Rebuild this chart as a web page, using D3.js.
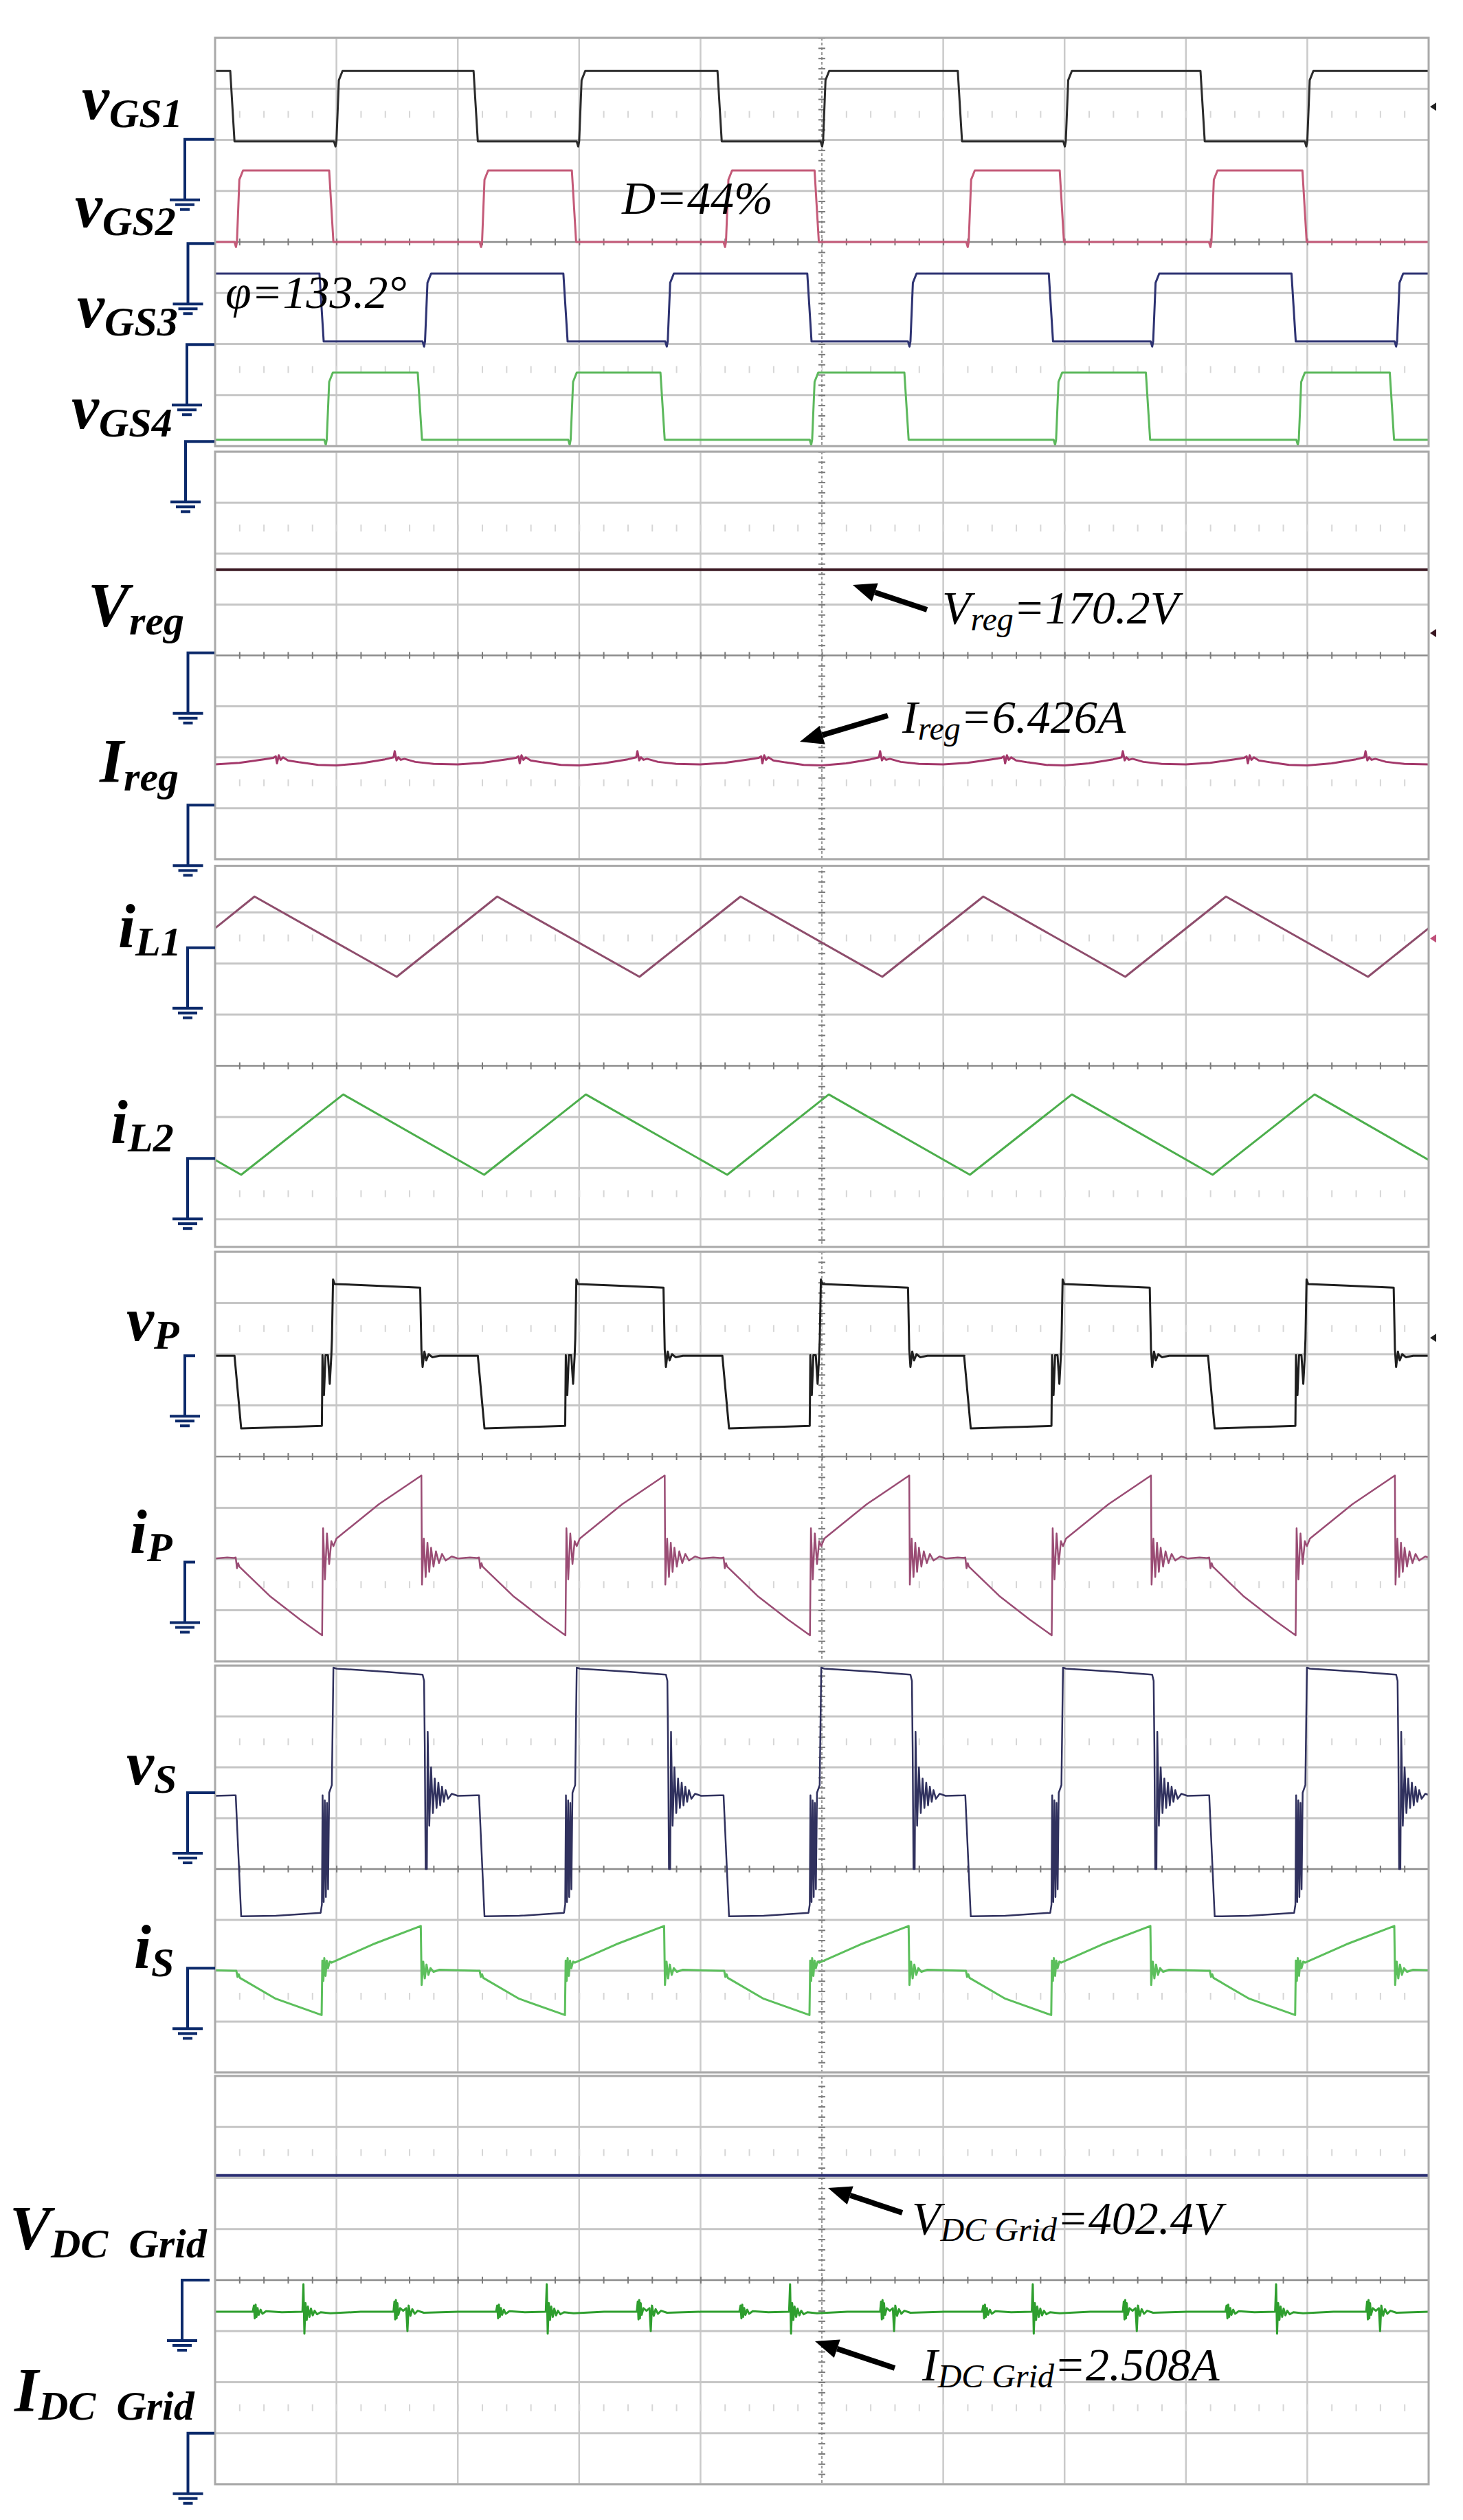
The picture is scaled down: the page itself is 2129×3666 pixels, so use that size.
<!DOCTYPE html>
<html>
<head>
<meta charset="utf-8">
<script src="https://cdn.jsdelivr.net/npm/d3@7"></script>
<style>
  body { margin: 0; background: #fff; }
  text { font-family: "Liberation Serif", "Times New Roman", serif; white-space: pre; }
</style>
</head>
<body>
<div id="chart"></div>
<script>
// time axis in scope divisions (0..10), levels in divisions from each screen's centre line

// gate signals (screen 1): edge times and [low, high] levels
var vGS1Rise = [1.0, 3.0, 5.01, 7.01, 9.0];
var vGS1Fall = [0.125, 2.13, 4.14, 6.12, 8.12];
var vGS1Level = [1.97, 3.35];
var vGS2Rise = [0.18, 2.2, 4.21, 6.21, 8.21];
var vGS2Fall = [0.94, 2.94, 4.94, 6.96, 8.96];
var vGS2Level = [0.0, 1.40];
var vGS3Rise = [1.73, 3.73, 5.73, 7.73, 9.74];
var vGS3Fall = [0.86, 2.87, 4.88, 6.87, 8.87];
var vGS3Level = [-1.95, -0.62];
var vGS4Rise = [0.92, 2.93, 4.92, 6.93, 8.93];
var vGS4Fall = [1.67, 3.67, 5.68, 7.67, 9.68];
var vGS4Level = [-3.875, -2.56];

// screen 2
var vregPts = [[0, 1.685], [10, 1.685]];
var iregCycle = [[0.0, -2.14], [0.2, -2.11], [0.4, -2.04], [0.48, -2.01], [0.5, -1.98], [0.51, -2.12],
  [0.525, -1.96], [0.54, -2.05], [0.56, -2.0], [0.6, -2.06], [0.7, -2.1], [0.85, -2.15], [1.0, -2.16],
  [1.2, -2.12], [1.4, -2.04], [1.47, -2.0], [1.48, -1.88], [1.495, -2.06], [1.51, -2.0], [1.53, -2.05],
  [1.56, -2.03], [1.65, -2.09], [1.8, -2.13], [2.0, -2.14]];
var iregShift = [0, 2, 4, 6, 8];

// screen 3: inductor currents (vertices)
var iL1Pts = [[0, 2.69], [0.325, 3.31], [1.497, 1.74], [2.325, 3.31], [3.497, 1.74], [4.33, 3.31],
  [5.498, 1.74], [6.33, 3.31], [7.5, 1.74], [8.33, 3.31], [9.5, 1.74], [10, 2.69]];
var iL2Pts = [[0, -1.84], [0.215, -2.13], [1.056, -0.56], [2.217, -2.13], [3.055, -0.56], [4.22, -2.13],
  [5.057, -0.56], [6.22, -2.13], [7.06, -0.56], [8.22, -2.13], [9.06, -0.56], [10, -1.84]];

// screens 4 and 5: one switching period each, repeated at the measured period starts
var bridgeShift = [-2, 0, 2.005, 4.02, 6.012, 8.022];
var vPCycle = [[0.155, 1.97], [0.16, 1.97], [0.215, 0.55], [0.5, 0.57], [0.88, 0.6], [0.885, 1.98],
  [0.897, 1.2], [0.91, 1.98], [0.93, 1.98], [0.945, 1.42], [0.958, 1.98], [0.963, 2.3], [0.972, 3.46],
  [0.985, 3.37], [1.3, 3.34], [1.69, 3.3], [1.70, 2.1], [1.71, 1.75], [1.725, 2.05], [1.74, 1.88],
  [1.76, 2.0], [1.79, 1.94], [1.85, 1.97], [2.155, 1.97]];
var iPCycle = [[0.155, -1.98], [0.17, -1.97], [0.18, -2.18], [0.19, -2.08], [0.2, -2.15], [0.45, -2.72],
  [0.7, -3.18], [0.882, -3.49], [0.89, -1.4], [0.905, -2.4], [0.922, -1.5], [0.94, -2.1], [0.958, -1.65],
  [0.975, -1.75], [1.0, -1.6], [1.35, -0.93], [1.7, -0.37], [1.705, -2.5],
  [1.72, -1.6], [1.735, -2.35], [1.75, -1.68], [1.765, -2.25], [1.78, -1.78], [1.8, -2.15], [1.82, -1.85],
  [1.845, -2.08], [1.87, -1.9], [1.9, -2.03], [1.95, -1.95], [2.0, -1.99], [2.1, -1.97], [2.155, -1.98]];
var vSCycle = [[0.155, 1.45], [0.17, 1.45], [0.215, -0.93], [0.5, -0.92], [0.87, -0.86], [0.88, -0.7],
  [0.886, 1.45], [0.895, -0.65], [0.904, 1.35], [0.913, -0.55], [0.922, 1.3], [0.931, -0.4], [0.94, 1.5],
  [0.962, 1.65], [0.975, 3.96], [1.0, 3.94], [1.4, 3.88], [1.71, 3.82], [1.722, 3.7], [1.728, 2.4],
  [1.735, 0.0], [1.745, 0.0], [1.752, 2.7], [1.765, 0.85], [1.78, 2.0], [1.795, 1.1], [1.81, 1.78],
  [1.825, 1.2], [1.84, 1.7], [1.855, 1.25], [1.87, 1.62], [1.885, 1.32], [1.9, 1.55], [1.92, 1.38],
  [1.95, 1.48], [2.0, 1.44], [2.155, 1.45]];
var iSCycle = [[0.155, -2.0], [0.175, -2.0], [0.185, -2.12], [0.195, -2.07], [0.205, -2.14], [0.5, -2.55],
  [0.878, -2.87], [0.884, -1.8], [0.892, -2.2], [0.9, -1.75], [0.91, -2.1], [0.92, -1.8], [0.93, -1.95],
  [0.945, -1.82], [0.96, -1.84], [1.3, -1.48], [1.695, -1.12], [1.702, -2.28], [1.715, -1.82],
  [1.728, -2.15], [1.742, -1.88], [1.758, -2.08], [1.775, -1.95], [1.8, -2.02], [1.85, -1.98], [2.155, -2.0]];

// screen 6
var vdcPts = [[0, 2.05], [10, 2.05]];
var idcShift = [-2, 0, 2.005, 4.01, 6.01, 8.015];
var idcCycle = [[0.0, -0.62], [0.31, -0.62], [0.32, -0.5], [0.327, -0.75], [0.334, -0.48], [0.341, -0.72],
  [0.35, -0.55], [0.36, -0.68], [0.375, -0.58], [0.39, -0.66], [0.42, -0.61], [0.55, -0.63], [0.72, -0.62],
  [0.728, -0.08], [0.736, -1.05], [0.745, -0.45], [0.755, -0.78], [0.765, -0.52], [0.778, -0.72],
  [0.79, -0.56], [0.805, -0.69], [0.82, -0.6], [0.84, -0.67], [0.87, -0.63], [0.95, -0.65], [1.2, -0.62],
  [1.47, -0.62], [1.478, -0.42], [1.484, -0.77], [1.49, -0.39], [1.496, -0.75], [1.502, -0.45],
  [1.51, -0.68], [1.525, -0.55], [1.55, -0.6], [1.575, -0.55], [1.585, -1.0], [1.595, -0.5], [1.61, -0.7],
  [1.625, -0.57], [1.645, -0.66], [1.67, -0.6], [1.72, -0.64], [2.0, -0.62]];

// probe reference (ground) levels per trace
var groundLevel = [2.01, -0.03, -2.01, -3.91, 0.05, -2.94, 2.31, -1.81, 1.97, -2.06, 1.50, -1.95, 0.0, -3.0];

// ---------------------------------------------------------------------------
var W = 2129, H = 3666;
var X0 = 313, X1 = 2079;
var SERIF = '"Liberation Serif", "Times New Roman", serif';

var panels = [
  {c: 352, d: 74.25, top: 55, bot: 649},
  {c: 953.5, d: 74.1, top: 657, bot: 1250},
  {c: 1550.5, d: 74.4, top: 1259.5, bot: 1814},
  {c: 2119, d: 74.5, top: 1821, bot: 2417},
  {c: 2719, d: 74, top: 2423, bot: 3015},
  {c: 3317, d: 74.25, top: 3020, bot: 3614}
];

var svg = d3.select("#chart").append("svg")
  .attr("width", W)
  .attr("height", H);

svg.append("rect").attr("width", W).attr("height", H).attr("fill", "#fff");

var x = d3.scaleLinear().domain([0, 10]).range([X0, X1]);
var defs = svg.append("defs");

function tile(cycle, shifts) {
  return shifts.flatMap(s => cycle.map(d => [d[0] + s, d[1]]));
}

function square(rises, falls, level, startHigh) {
  var lo = level[0], hi = level[1];
  var edges = rises.map(t => ({t: t, up: true}))
    .concat(falls.map(t => ({t: t, up: false})))
    .sort((a, b) => a.t - b.t);
  var pts = [[0, startHigh ? hi : lo]];
  edges.forEach(e => {
    if (e.up) {
      pts.push([e.t - 0.02, lo], [e.t - 0.008, lo - 0.1], [e.t, lo], [e.t + 0.02, hi - 0.18], [e.t + 0.05, hi]);
    } else {
      pts.push([e.t, hi], [e.t + 0.035, lo]);
    }
  });
  pts.push([10, pts[pts.length - 1][1]]);
  return pts;
}

// grid for every screen
panels.forEach(function(p, i) {
  p.y = d3.scaleLinear().domain([-4, 4]).range([p.c + 4 * p.d, p.c - 4 * p.d]);

  defs.append("clipPath").attr("id", "clip" + i)
    .append("rect")
    .attr("x", X0).attr("y", p.top)
    .attr("width", X1 - X0).attr("height", p.bot - p.top);

  p.g = svg.append("g").attr("clip-path", `url(#clip${i})`);
  var g = p.g;

  d3.range(1, 10).forEach(k => {
    g.append("line")
      .attr("x1", x(k)).attr("x2", x(k))
      .attr("y1", p.top).attr("y2", p.bot)
      .attr("stroke", k === 5 ? "#9a9a9a" : "#cacaca")
      .attr("stroke-width", k === 5 ? 2 : 2.5)
      .attr("stroke-dasharray", k === 5 ? "4,3" : null);
  });
  d3.range(-4, 5).forEach(v => {
    if (v === 0) return;
    g.append("line")
      .attr("x1", X0).attr("x2", X1)
      .attr("y1", p.y(v)).attr("y2", p.y(v))
      .attr("stroke", "#c6c6c6")
      .attr("stroke-width", 3);
  });

  // dotted rows at +/-2.5 div
  [-2.5, 2.5].forEach(v => {
    g.append("g")
      .attr("transform", `translate(0, ${p.y(v) - 5})`)
      .call(d3.axisBottom(x).tickValues(d3.range(0.2, 10, 0.2)).tickSizeInner(10).tickSizeOuter(0).tickFormat(""))
      .call(a => a.select(".domain").remove())
      .selectAll("line").attr("stroke", "#d6d6d6").attr("stroke-width", 2);
  });

  // centre line with tick marks
  g.append("line")
    .attr("x1", X0).attr("x2", X1)
    .attr("y1", p.y(0)).attr("y2", p.y(0))
    .attr("stroke", "#8c8c8c").attr("stroke-width", 2.5);
  g.append("g")
    .attr("transform", `translate(0, ${p.y(0) - 5})`)
    .call(d3.axisBottom(x).tickValues(d3.range(0.2, 10, 0.2)).tickSizeInner(10).tickSizeOuter(0).tickFormat(""))
    .call(a => a.select(".domain").remove())
    .selectAll("line").attr("stroke", "#7a7a7a").attr("stroke-width", 2);
  g.append("g")
    .attr("transform", `translate(${x(5) - 5}, 0)`)
    .call(d3.axisRight(p.y).tickValues(d3.range(-4, 4.01, 0.2)).tickSizeInner(10).tickSizeOuter(0).tickFormat(""))
    .call(a => a.select(".domain").remove())
    .selectAll("line").attr("stroke", "#7a7a7a").attr("stroke-width", 2);
});

// traces
var traces = [
  {p: 0, color: "#2b2b2b", pts: square(vGS1Rise, vGS1Fall, vGS1Level, true)},
  {p: 0, color: "#c45a78", pts: square(vGS2Rise, vGS2Fall, vGS2Level, false)},
  {p: 0, color: "#2e3372", pts: square(vGS3Rise, vGS3Fall, vGS3Level, true)},
  {p: 0, color: "#5cb85c", pts: square(vGS4Rise, vGS4Fall, vGS4Level, false)},
  {p: 1, color: "#3a1822", pts: vregPts, w: 4},
  {p: 1, color: "#a3386a", pts: tile(iregCycle, iregShift)},
  {p: 2, color: "#8e4d6c", pts: iL1Pts},
  {p: 2, color: "#4cae4c", pts: iL2Pts},
  {p: 3, color: "#1f1f1f", pts: tile(vPCycle, bridgeShift)},
  {p: 3, color: "#9a4c74", pts: tile(iPCycle, bridgeShift), w: 2.5},
  {p: 4, color: "#30315e", pts: tile(vSCycle, bridgeShift), w: 2.5},
  {p: 4, color: "#5cbf5c", pts: tile(iSCycle, bridgeShift)},
  {p: 5, color: "#2b2f72", pts: vdcPts, w: 4},
  {p: 5, color: "#2e9e2e", pts: tile(idcCycle, idcShift)}
];

traces.forEach(function(tr) {
  var p = panels[tr.p];
  var line = d3.line().x(d => x(d[0])).y(d => p.y(d[1]));
  p.g.append("path")
    .datum(tr.pts)
    .attr("d", line)
    .attr("fill", "none")
    .attr("stroke", tr.color)
    .attr("stroke-width", tr.w || 3)
    .attr("stroke-linejoin", "round");
});

// screen borders
panels.forEach(function(p) {
  svg.append("rect")
    .attr("x", X0).attr("y", p.top)
    .attr("width", X1 - X0).attr("height", p.bot - p.top)
    .attr("fill", "none")
    .attr("stroke", "#a9a9a9")
    .attr("stroke-width", 3);
});

// trigger level markers on the right edge
[[0, 2.65, "#222"], [1, 0.44, "#3a1822"], [2, 2.49, "#c0507a"], [3, 2.32, "#222"]].forEach(function(m) {
  var yy = panels[m[0]].y(m[1]);
  svg.append("path")
    .attr("d", `M${X1 + 2},${yy} L${X1 + 11},${yy - 6} L${X1 + 11},${yy + 6} Z`)
    .attr("fill", m[2]);
});

// probe ground symbols
var groundPanel = [0, 0, 0, 0, 1, 1, 2, 2, 3, 3, 4, 4, 5, 5];
var groundX = [269, 273.5, 272, 270, 273.5, 273.5, 273, 273, 269, 269, 273, 273, 265, 273.5];
var groundStub = [312, 312, 312, 312, 312, 312, 313, 313, 284, 284, 313, 313, 305, 312];
groundLevel.forEach(function(v, i) {
  var yz = panels[groundPanel[i]].y(v), gx = groundX[i];
  var gnd = svg.append("g")
    .attr("stroke", "#0c2a6b")
    .attr("stroke-width", 4)
    .attr("fill", "none");
  gnd.append("path").attr("d", `M${groundStub[i]},${yz} H${gx} V${yz + 88}`);
  [[88, 22], [95, 14], [102, 7]].forEach(b => {
    gnd.append("line")
      .attr("x1", gx - b[1]).attr("x2", gx + b[1])
      .attr("y1", yz + b[0]).attr("y2", yz + b[0]);
  });
});

// signal names
var names = [
  ["v", "GS1", 119, 172.6], ["v", "GS2", 109, 330], ["v", "GS3", 112, 475.6], ["v", "GS4", 104, 623],
  ["V", "reg", 128, 911], ["I", "reg", 145, 1138],
  ["i", "L1", 172, 1378], ["i", "L2", 161, 1663],
  ["v", "P", 184, 1950], ["i", "P", 189, 2259],
  ["v", "S", 184, 2596], ["i", "S", 195, 2863],
  ["V", "DC  Grid", 14, 3272], ["I", "DC  Grid", 21, 3508]
];
names.forEach(function(n) {
  var t = svg.append("text")
    .attr("x", n[2]).attr("y", n[3])
    .attr("font-family", SERIF)
    .style("font-weight", "bold")
    .style("font-style", "italic")
    .style("font-size", "90px")
    .attr("fill", "#000");
  t.append("tspan").text(n[0]);
  t.append("tspan").attr("dy", 12).style("font-size", "60px").text(n[1]);
});

// annotations
function note(x0, y0, main, sub, rest) {
  var t = svg.append("text")
    .attr("x", x0).attr("y", y0)
    .attr("font-family", SERIF)
    .style("font-style", "italic")
    .style("font-size", "68px")
    .attr("fill", "#000");
  t.append("tspan").text(main);
  if (sub) {
    t.append("tspan").attr("dy", 10).style("font-size", "48px").text(sub);
    t.append("tspan").attr("dy", -10).text(rest);
  }
}
note(905, 311, "D=44%");
note(328, 448, "\u03c6=133.2\u00b0");
note(1371, 907, "V", "reg", "=170.2V");
note(1313, 1066, "I", "reg", "=6.426A");
note(1327, 3250, "V", "DC Grid", "=402.4V");
note(1342, 3463, "I", "DC Grid", "=2.508A");

function arrow(xa, ya, xb, yb) {
  var a = Math.atan2(yb - ya, xb - xa), L = 34, hw = 14;
  var bx = xb - L * Math.cos(a), by = yb - L * Math.sin(a);
  svg.append("line")
    .attr("x1", xa).attr("y1", ya).attr("x2", bx).attr("y2", by)
    .attr("stroke", "#000").attr("stroke-width", 8);
  svg.append("polygon")
    .attr("points", [[xb, yb], [bx + hw * Math.sin(a), by - hw * Math.cos(a)], [bx - hw * Math.sin(a), by + hw * Math.cos(a)]].join(" "))
    .attr("fill", "#000");
}
arrow(1349, 887, 1241, 851);
arrow(1292, 1041, 1164, 1079);
arrow(1313, 3219, 1205, 3183);
arrow(1302, 3445, 1186, 3406);
</script>
</body>
</html>
